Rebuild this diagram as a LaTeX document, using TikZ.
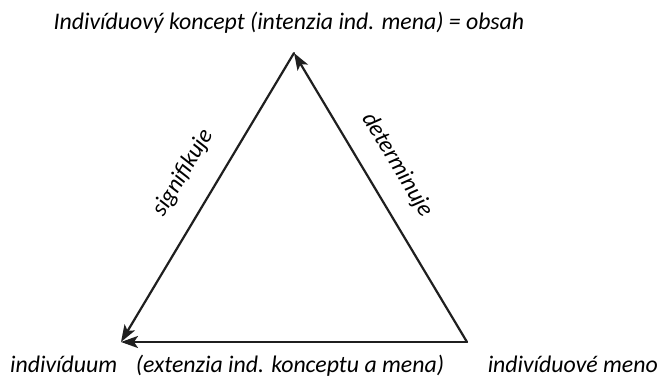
\documentclass[tikz,border=0pt]{standalone}
\usepackage{fontspec}
\setmainfont{Carlito}
\usetikzlibrary{arrows.meta}

\begin{document}
\begin{tikzpicture}[line cap=round,line join=round,>={Stealth[length=17pt,width=12pt,inset=4pt]},x=1pt,y=1pt]

\def\lw{2.2pt} %line width
\def\fs{\fontsize{23.8}{27}\selectfont\itshape} %label font

\tikzset{
  side/.style={line width=\lw, color=black!88},
  lbl/.style={font=\fs, inner sep=0pt, anchor=base}
}

\useasboundingbox (0,0) rectangle (661,379);

%corners
\coordinate (top) at (294,326);
\coordinate (left) at (121,37);
\coordinate (right) at (467,37);

%sides
\draw[side,->] (right) -- (top);
\draw[side,->] (top) -- (left);
\draw[side,->] (right) -- (left);

%labels
\node[lbl] (koncept) at (289,349) {Indivíduový koncept (intenzia ind. mena) = obsah};
\node[lbl, anchor=base west] (individuum) at (10,6) {indivíduum};
\node[lbl] (extenzia) at (290,6) {(extenzia ind. konceptu a mena)};
\node[lbl, anchor=base east] (meno) at (658,6) {indivíduové meno};
\node[lbl, rotate=59, anchor=center] (signifikuje) at (183,206) {signifikuje};
\node[lbl, rotate=-59, anchor=center] (determinuje) at (397,214) {determinuje};

\end{tikzpicture}
\end{document}
